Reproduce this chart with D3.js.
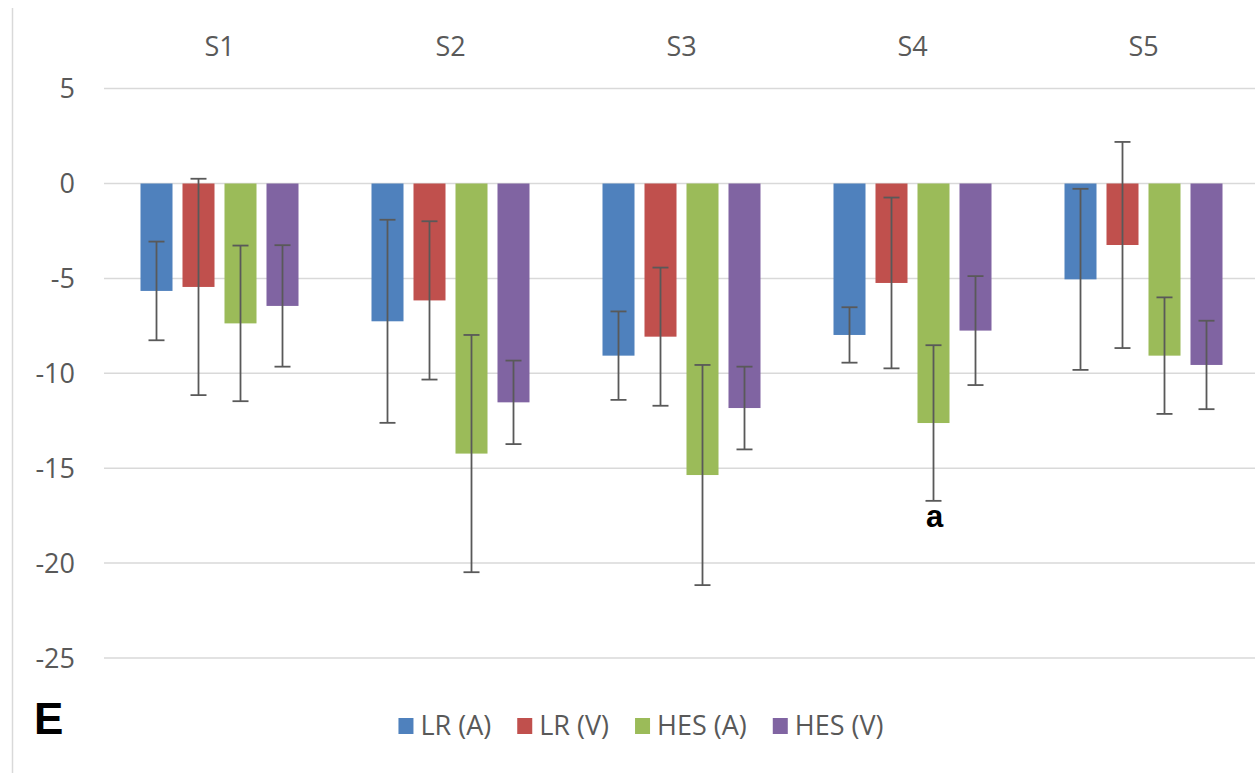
<!DOCTYPE html>
<html>
<head>
<meta charset="utf-8">
<script src="https://cdn.jsdelivr.net/npm/d3@7"></script>
<style>
  body { margin: 0; background: #fff; }
  text { font-family: "Open Sans", sans-serif; fill: #595959; }
</style>
</head>
<body>
<svg id="chart" width="1255" height="773"></svg>
<script>
// Data
const sessions = ['S1', 'S2', 'S3', 'S4', 'S5'];
const seriesNames = ['LR (A)', 'LR (V)', 'HES (A)', 'HES (V)'];
const seriesColors = ['#4f81bd', '#c0504d', '#9bbb59', '#8064a2'];

const lrA = [-5.66, -7.26, -9.07, -7.98, -5.05];
const lrV = [-5.45, -6.16, -8.07, -5.24, -3.24];
const hesA = [-7.37, -14.23, -15.36, -12.62, -9.07];
const hesV = [-6.45, -11.53, -11.83, -7.75, -9.56];

const lrAErr = [2.6, 5.35, 2.33, 1.46, 4.77];
const lrVErr = [5.7, 4.17, 3.64, 4.5, 5.43];
const hesAErr = [4.1, 6.25, 5.8, 4.1, 3.07];
const hesVErr = [3.2, 2.2, 2.18, 2.87, 2.33];

const yTicks = [5, 0, -5, -10, -15, -20, -25];

// Build rows for drawing
const means = [lrA, lrV, hesA, hesV];
const errs = [lrAErr, lrVErr, hesAErr, hesVErr];
const rows = [];
sessions.forEach((s, i) => {
  seriesNames.forEach((n, j) => {
    rows.push({ session: s, series: n, value: means[j][i], err: errs[j][i], color: seriesColors[j] });
  });
});

const svg = d3.select('#chart');

// Scales
const x0 = d3.scaleBand().domain(sessions).range([104, 1259]).paddingInner(0.316).paddingOuter(0.158);
const x1 = d3.scaleBand().domain(seriesNames).range([0, x0.bandwidth()]).paddingInner(0.238);
const y = d3.scaleLinear().domain([-25, 5]).range([658, 88.6]);

// Chart border on the left
svg.append('line')
  .attr('x1', 12.5).attr('x2', 12.5)
  .attr('y1', 8).attr('y2', 773)
  .attr('stroke', '#d9d9d9').attr('stroke-width', 1.5);

// Gridlines
svg.append('g')
  .selectAll('line')
  .data(yTicks)
  .join('line')
  .attr('x1', 104).attr('x2', 1255)
  .attr('y1', (d) => y(d)).attr('y2', (d) => y(d))
  .attr('stroke', '#d9d9d9').attr('stroke-width', 1.5);

// Y tick labels
svg.append('g')
  .selectAll('text')
  .data(yTicks)
  .join('text')
  .attr('x', 75)
  .attr('y', (d) => y(d))
  .attr('dy', '0.36em')
  .attr('text-anchor', 'end')
  .style('font-size', '27px')
  .text((d) => d);

// Session labels along the top
svg.append('g')
  .selectAll('text')
  .data(sessions)
  .join('text')
  .attr('x', (d) => x0(d) + x0.bandwidth() / 2)
  .attr('y', 56)
  .attr('text-anchor', 'middle')
  .style('font-size', '27px')
  .text((d) => d);

// Bars
svg.append('g')
  .selectAll('rect')
  .data(rows)
  .join('rect')
  .attr('x', (d) => x0(d.session) + x1(d.series))
  .attr('y', (d) => Math.min(y(0), y(d.value)))
  .attr('width', x1.bandwidth())
  .attr('height', (d) => Math.abs(y(d.value) - y(0)))
  .attr('fill', (d) => d.color);

// Error bars
const errG = svg.append('g')
  .attr('stroke', '#595959')
  .attr('stroke-width', 1.8);
const cx = (d) => x0(d.session) + x1(d.series) + x1.bandwidth() / 2;
const capHalf = 8;

errG.selectAll('line.stem')
  .data(rows)
  .join('line')
  .attr('class', 'stem')
  .attr('x1', cx).attr('x2', cx)
  .attr('y1', (d) => y(d.value + d.err))
  .attr('y2', (d) => y(d.value - d.err));

errG.selectAll('line.capTop')
  .data(rows)
  .join('line')
  .attr('class', 'capTop')
  .attr('x1', (d) => cx(d) - capHalf).attr('x2', (d) => cx(d) + capHalf)
  .attr('y1', (d) => y(d.value + d.err)).attr('y2', (d) => y(d.value + d.err));

errG.selectAll('line.capBottom')
  .data(rows)
  .join('line')
  .attr('class', 'capBottom')
  .attr('x1', (d) => cx(d) - capHalf).attr('x2', (d) => cx(d) + capHalf)
  .attr('y1', (d) => y(d.value - d.err)).attr('y2', (d) => y(d.value - d.err));

// Significance mark under S4 HES (A)
const marked = rows.find((d) => d.session === 'S4' && d.series === 'HES (A)');
svg.append('text')
  .attr('x', cx(marked) + 1)
  .attr('y', y(marked.value - marked.err) + 26)
  .attr('text-anchor', 'middle')
  .style('font-family', 'Liberation Sans, Arial, sans-serif')
  .style('font-weight', 'bold')
  .style('font-size', '31px')
  .style('fill', '#000')
  .text('a');

// Panel letter
svg.append('text')
  .attr('x', 34)
  .attr('y', 734)
  .style('font-family', 'Liberation Sans, Arial, sans-serif')
  .style('font-weight', 'bold')
  .style('font-size', '44px')
  .style('fill', '#000')
  .text('E');

// Legend
const legend = svg.append('g');
const legendItems = legend.selectAll('g')
  .data(seriesNames)
  .join('g');
legendItems.append('rect')
  .attr('width', 15).attr('height', 16)
  .attr('y', -17)
  .attr('fill', (d, i) => seriesColors[i]);
legendItems.append('text')
  .attr('x', 22)
  .attr('y', 0)
  .style('font-size', '27px')
  .text((d) => d);

// lay out legend items one after another, centered
const gap = 26;
let offset = 0;
const positions = [];
legendItems.each(function () {
  const w = this.getBBox().width;
  positions.push(offset);
  offset += w + gap;
});
const totalW = offset - gap;
const startX = 641 - totalW / 2;
legendItems.attr('transform', (d, i) => `translate(${startX + positions[i]},735)`);
</script>
</body>
</html>
